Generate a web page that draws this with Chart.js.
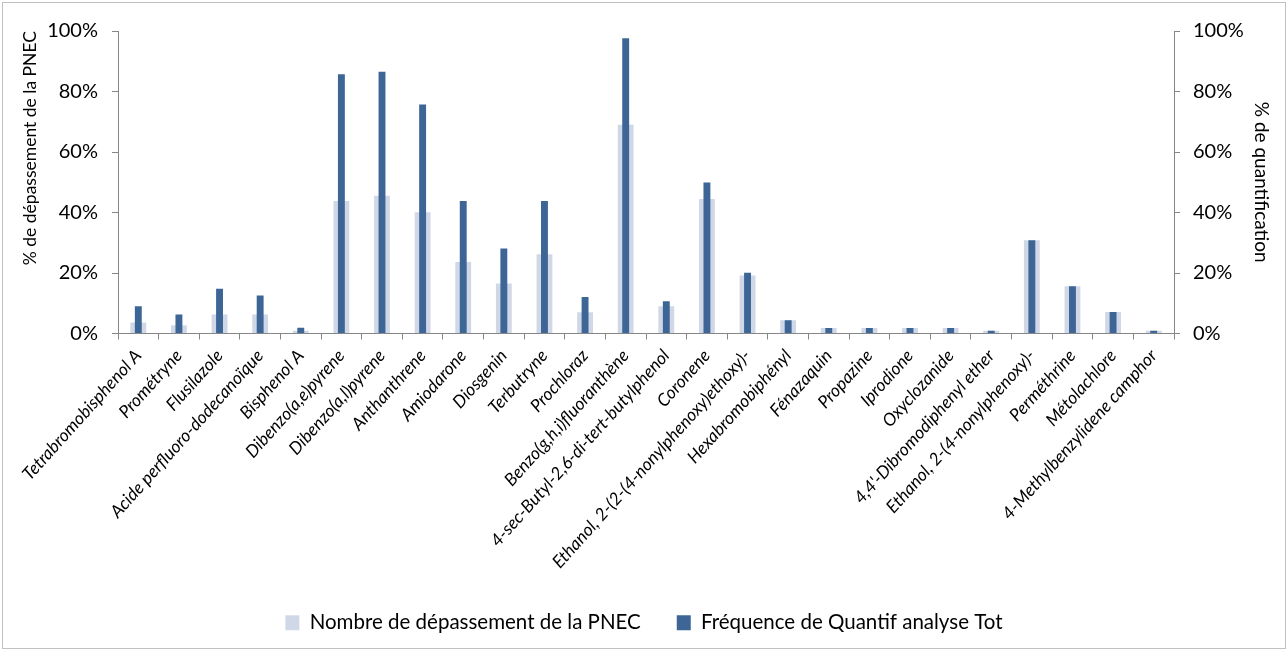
<!DOCTYPE html>
<html>
<head>
<meta charset="utf-8">
<script src="https://cdn.jsdelivr.net/npm/chart.js@4/dist/chart.umd.min.js"></script>
<style>
  html, body { margin: 0; padding: 0; background: #fff; }
</style>
</head>
<body>
<canvas id="chart" width="1288" height="651"></canvas>
<script>
// data (percent)
const categories = [
  'Tetrabromobisphenol A', 'Prométryne', 'Flusilazole', 'Acide perfluoro-dodecanoïque',
  'Bisphenol A', 'Dibenzo(a,e)pyrene', 'Dibenzo(a,l)pyrene', 'Anthanthrene', 'Amiodarone',
  'Diosgenin', 'Terbutryne', 'Prochloraz', 'Benzo(g,h,i)fluoranthène',
  '4-sec-Butyl-2,6-di-tert-butylphenol', 'Coronene', 'Ethanol, 2-(2-(4-nonylphenoxy)ethoxy)-',
  'Hexabromobiphényl', 'Fénazaquin', 'Propazine', 'Iprodione', 'Oxyclozanide',
  '4,4\'-Dibromodiphenyl ether', 'Ethanol, 2-(4-nonylphenoxy)-', 'Perméthrine',
  'Métolachlore', '4-Methylbenzylidene camphor'
];
const depassementPNEC = [3.6, 2.7, 6.3, 6.3, 0.9, 43.8, 45.5, 40.1, 23.6, 16.5, 26.2, 7.0, 69.0,
  9.0, 44.5, 19.2, 4.4, 1.8, 1.8, 1.8, 1.8, 0.9, 30.8, 15.6, 7.1, 0.9];
const frequenceQuantif = [9.0, 6.3, 14.8, 12.6, 1.9, 85.7, 86.5, 75.7, 43.8, 28.1, 43.8, 12.1, 97.6,
  10.7, 49.9, 20.1, 4.4, 1.8, 1.8, 1.8, 1.8, 0.9, 30.8, 15.6, 7.1, 0.9];
const yTicks = [0, 20, 40, 60, 80, 100];

const lightColor = '#d0d8e8';
const darkColor = '#3d6696';
const axisColor = '#868686';
const fontFamily = 'Lato, "Open Sans", sans-serif';

// white background + thin frame like the spreadsheet chart area
const frame = {
  id: 'frame',
  beforeDraw(chart) {
    const ctx = chart.ctx;
    ctx.save();
    ctx.fillStyle = '#fff';
    ctx.fillRect(0, 0, chart.width, chart.height);
    ctx.strokeStyle = '#c0c0c0';
    ctx.lineWidth = 1;
    ctx.strokeRect(2.5, 2.5, chart.width - 5, chart.height - 5);
    ctx.restore();
  }
};

const yAxis = (pad) => ({
  min: 0,
  max: 100,
  afterBuildTicks: (scale) => { scale.ticks = yTicks.map(v => ({ value: v })); },
  ticks: {
    callback: (v) => v + '%',
    color: '#000',
    font: { family: fontFamily, size: 20 },
    padding: pad
  },
  grid: { drawOnChartArea: false, tickLength: 6, color: axisColor },
  border: { color: axisColor }
});

new Chart(document.getElementById('chart').getContext('2d'), {
  type: 'bar',
  data: {
    labels: categories,
    datasets: [
      {
        label: 'Nombre de dépassement de la PNEC',
        data: depassementPNEC,
        backgroundColor: lightColor,
        yAxisID: 'y',
        grouped: false,
        order: 1,
        barPercentage: 0.39,
        categoryPercentage: 1
      },
      {
        label: 'Fréquence de Quantif analyse Tot',
        data: frequenceQuantif,
        backgroundColor: darkColor,
        yAxisID: 'y2',
        grouped: false,
        order: 0,
        barPercentage: 0.17,
        categoryPercentage: 1
      }
    ]
  },
  options: {
    responsive: false,
    animation: false,
    layout: { padding: { top: 31, left: 0, right: 0, bottom: 8 } },
    plugins: {
      tooltip: { enabled: false },
      legend: {
        position: 'bottom',
        labels: {
          sort: (a, b) => a.datasetIndex - b.datasetIndex,
          boxWidth: 14,
          boxHeight: 15,
          padding: 36,
          color: '#000',
          font: { family: fontFamily, size: 20.5 }
        }
      }
    },
    scales: {
      x: {
        afterFit: (scale) => { scale.height = 243; },
        ticks: {
          autoSkip: false,
          minRotation: 48,
          maxRotation: 48,
          padding: 6,
          color: '#000',
          font: { family: fontFamily, size: 17.5, style: 'italic' }
        },
        grid: { drawOnChartArea: false, tickLength: 6, color: axisColor, offset: true },
        border: { color: axisColor }
      },
      y: Object.assign(yAxis(14), {
        position: 'left',
        afterFit: (scale) => { scale.width = 118; },
        title: {
          display: true,
          text: '% de dépassement de la PNEC',
          align: 'end',
          color: '#000',
          font: { family: fontFamily, size: 17.5 },
          padding: { top: 20, bottom: 0 }
        }
      }),
      y2: Object.assign(yAxis(13), {
        position: 'right',
        afterFit: (scale) => { scale.width = 114; },
        title: {
          display: true,
          text: '% de quantification',
          color: '#000',
          font: { family: fontFamily, size: 19 },
          padding: { top: 15, bottom: 0 }
        }
      })
    }
  },
  plugins: [frame]
});
</script>
</body>
</html>
